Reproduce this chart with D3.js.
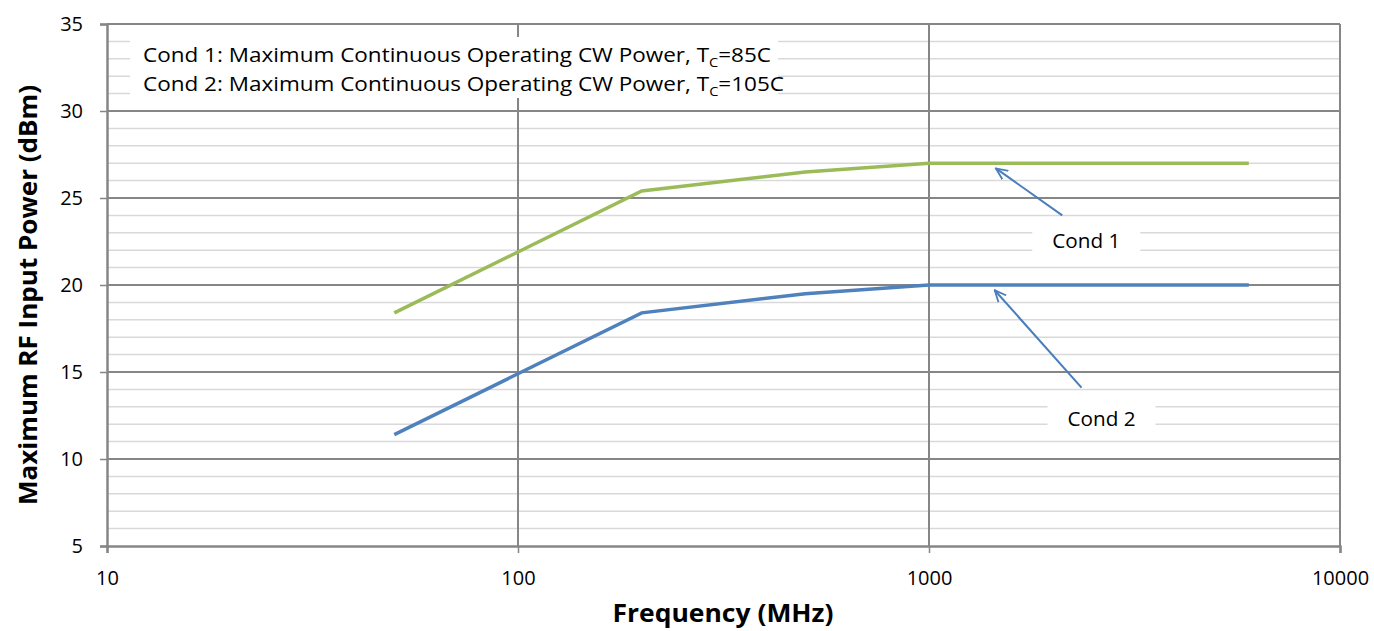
<!DOCTYPE html>
<html>
<head>
<meta charset="utf-8">
<script src="https://cdn.jsdelivr.net/npm/d3@7"></script>
<style>
  body { margin: 0; background: #fff; }
  text { font-family: "Open Sans", "Liberation Sans", sans-serif; }
</style>
</head>
<body>
<div id="chart"></div>
<script>
const freqs = [50, 200, 500, 1000, 6000]
const cond1 = [18.4, 25.4, 26.5, 27, 27]
const cond2 = [11.4, 18.4, 19.5, 20, 20]
const xTicks = [10, 100, 1000, 10000]
const yTicks = [5, 10, 15, 20, 25, 30, 35]
const legendLines = [
    ['Cond 1: Maximum Continuous Operating CW Power, T', 'C', '=85C'],
    ['Cond 2: Maximum Continuous Operating CW Power, T', 'C', '=105C']
]
// callouts: [label, arrow tail freq, tail dBm, head freq, head dBm]
const callouts = [
    ['Cond 1', 2110, 24.0, 1455, 26.7],
    ['Cond 2', 2350, 14.1, 1445, 19.7]
]

const width = 1374
const height = 631
const pLeft = 107, pRight = 1340, pTop = 24, pBottom = 546

const svg = d3.select('#chart').append('svg')
    .attr('width', width)
    .attr('height', height)

const xScale = d3.scaleLog().domain([10, 10000]).range([pLeft, pRight])
const yScale = d3.scaleLinear().domain([5, 35]).range([pBottom, pTop])

// minor grid
const minor = d3.range(5, 36, 1).filter(d => d % 5 !== 0)
svg.append('g').selectAll('line').data(minor).join('line')
    .attr('x1', pLeft).attr('x2', pRight)
    .attr('y1', d => yScale(d)).attr('y2', d => yScale(d))
    .attr('stroke', '#d9d9d9').attr('stroke-width', 1.5)

// major grid
svg.append('g').selectAll('line').data(yTicks.slice(1)).join('line')
    .attr('x1', pLeft).attr('x2', pRight)
    .attr('y1', d => yScale(d)).attr('y2', d => yScale(d))
    .attr('stroke', '#868686').attr('stroke-width', 2)
svg.append('g').selectAll('line').data(xTicks.slice(1)).join('line')
    .attr('x1', d => xScale(d)).attr('x2', d => xScale(d))
    .attr('y1', pTop).attr('y2', pBottom)
    .attr('stroke', '#868686').attr('stroke-width', 2)

// legend box
const legend = svg.append('g')
legend.append('rect')
    .attr('x', 130).attr('y', 37).attr('width', 648).attr('height', 61)
    .attr('fill', 'white')
const lt = legend.selectAll('text').data(legendLines).join('text')
    .attr('x', 143).attr('y', (d, i) => 62 + i * 29)
    .attr('font-size', 20).attr('fill', '#000')
    .attr('textLength', (d, i) => i === 0 ? 628 : 641)
    .attr('lengthAdjust', 'spacingAndGlyphs')
lt.append('tspan').text(d => d[0])
lt.append('tspan').attr('font-size', 13).attr('dy', 5).text(d => d[1])
lt.append('tspan').attr('dy', -5).text(d => d[2])

// axes
const yAxis = svg.append('g')
    .attr('transform', 'translate(' + pLeft + ',0)')
    .call(d3.axisLeft(yScale).tickValues(yTicks).tickSize(7).tickPadding(17))
const xAxis = svg.append('g')
    .attr('transform', 'translate(0,' + pBottom + ')')
    .call(d3.axisBottom(xScale).tickValues(xTicks).tickFormat(d3.format('d')).tickSize(7).tickPadding(18))
;[yAxis, xAxis].forEach(a => {
    a.select('.domain').attr('stroke', '#868686').attr('stroke-width', 2.5)
    a.selectAll('.tick line').attr('stroke', '#868686').attr('stroke-width', 1.5)
    a.selectAll('.tick text').attr('font-size', 20).attr('fill', '#000')
        .attr('font-family', '"Open Sans", sans-serif')
})

// lines
const valueline = d3.line()
    .x(d => xScale(d[0]))
    .y(d => yScale(d[1]))
svg.append('path')
    .datum(freqs.map((f, i) => [f, cond1[i]]))
    .attr('d', valueline)
    .attr('fill', 'none').attr('stroke', '#9bbb59').attr('stroke-width', 3.5)
svg.append('path')
    .datum(freqs.map((f, i) => [f, cond2[i]]))
    .attr('d', valueline)
    .attr('fill', 'none').attr('stroke', '#4f81bd').attr('stroke-width', 3.5)

// callouts
svg.append('defs').append('marker')
    .attr('id', 'arrow').attr('viewBox', '0 0 10 10')
    .attr('refX', 9).attr('refY', 5)
    .attr('markerWidth', 13).attr('markerHeight', 13)
    .attr('markerUnits', 'userSpaceOnUse')
    .attr('orient', 'auto')
    .append('path').attr('d', 'M0,1 L9,5 L0,9')
    .attr('fill', 'none').attr('stroke', '#4a7ebb').attr('stroke-width', 1.4)
const co = svg.append('g').selectAll('g').data(callouts).join('g')
co.append('line')
    .attr('x1', d => xScale(d[1])).attr('y1', d => yScale(d[2]))
    .attr('x2', d => xScale(d[3])).attr('y2', d => yScale(d[4]))
    .attr('stroke', '#4a7ebb').attr('stroke-width', 2)
    .attr('marker-end', 'url(#arrow)')
co.append('rect')
    .attr('x', (d, i) => xScale(d[1]) + (i ? 20 : 24) - 54)
    .attr('y', (d, i) => yScale(d[2]) + (i ? 13 : 10))
    .attr('width', 108).attr('height', (d, i) => i ? 36 : 32)
    .attr('fill', 'white')
co.append('text')
    .attr('x', (d, i) => xScale(d[1]) + (i ? 20 : 24))
    .attr('y', (d, i) => yScale(d[2]) + (i ? 38 : 33))
    .attr('text-anchor', 'middle').attr('font-size', 20)
    .attr('textLength', 68).attr('lengthAdjust', 'spacingAndGlyphs')
    .text(d => d[0])

// titles
svg.append('text')
    .attr('transform', 'translate(37,' + ((pTop + pBottom) / 2 + 10) + ') rotate(-90)')
    .attr('text-anchor', 'middle').attr('font-size', 25).attr('font-weight', 'bold')
    .attr('textLength', 420).attr('lengthAdjust', 'spacingAndGlyphs')
    .text('Maximum RF Input Power (dBm)')
svg.append('text')
    .attr('x', 723).attr('y', 622)
    .attr('text-anchor', 'middle').attr('font-size', 25).attr('font-weight', 'bold')
    .attr('textLength', 221).attr('lengthAdjust', 'spacingAndGlyphs')
    .text('Frequency (MHz)')
</script>
</body>
</html>
